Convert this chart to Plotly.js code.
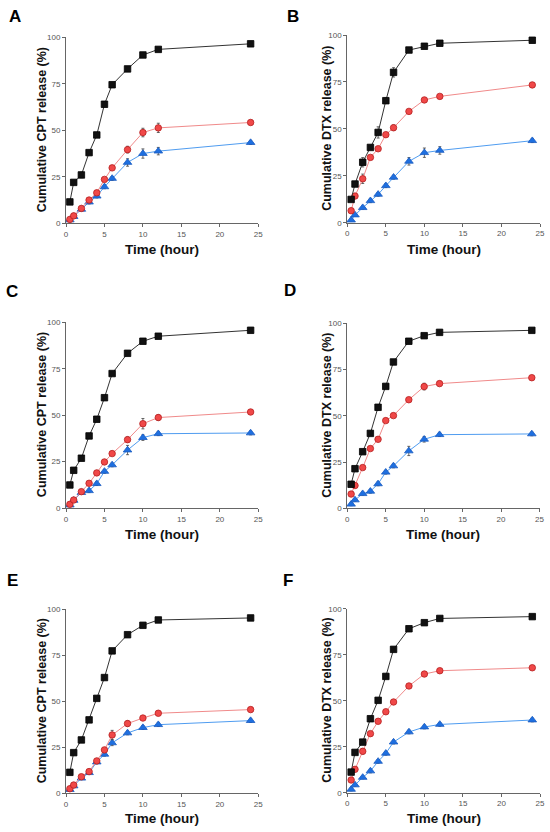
<!DOCTYPE html>
<html>
<head>
<meta charset="utf-8">
<script src="https://cdn.plot.ly/plotly-3.0.1.min.js"></script>
<style>html,body{margin:0;padding:0;background:#fff;}#chart{width:550px;height:832px;}</style>
</head>
<body>
<div id="chart"></div>
<script>
// ---- Data ----
const time = [0.5, 1, 2, 3, 4, 5, 6, 8, 10, 12, 24];
const panelLabels = ["A", "B", "C", "D", "E", "F"];
const yTitles = ["Cumulative CPT release (%)", "Cumulative DTX release (%)",
                 "Cumulative CPT release (%)", "Cumulative DTX release (%)",
                 "Cumulative CPT release (%)", "Cumulative DTX release (%)"];
const xTitle = "Time (hour)";
const xTicks = [0, 5, 10, 15, 20, 25];
const yTicks = [0, 25, 50, 75, 100];

const blackA = [11.5, 22, 26, 38, 47.5, 64, 74.5, 83, 90.5, 93.5, 96.5];
const redA   = [2.1, 4, 8, 12.5, 16.4, 23.6, 29.8, 39.6, 48.8, 51.3, 54.2];
const blueA  = [1.8, 3.6, 7.5, 11.4, 14.6, 19.6, 24.1, 32.7, 37.5, 38.8, 43.4];
const blackB = [12.4, 20.6, 32.2, 40.1, 48.1, 65, 80.1, 92, 94, 95.6, 97.2];
const redB   = [6.4, 14.2, 23.4, 34.8, 39.4, 46.9, 50.6, 59.3, 65.4, 67.3, 73.4];
const blueB  = [1.4, 4.1, 8, 11.7, 15.1, 19.7, 24.2, 32.7, 37.3, 38.5, 43.7];
const blackC = [12.4, 20.3, 26.8, 38.8, 47.8, 59.4, 72.4, 83.3, 89.8, 92.5, 95.7];
const redC   = [2, 4.3, 8.8, 13.3, 18.9, 24.8, 29.3, 36.8, 45.4, 48.7, 51.7];
const blueC  = [1.6, 4.1, 8.3, 9.3, 13.1, 19.7, 23.2, 31.2, 37.9, 40, 40.4];
const blackD = [13, 21.4, 30.6, 40.5, 54.6, 65.9, 79.1, 90.3, 93.3, 95.1, 96.2];
const redD   = [7.7, 12.3, 22, 32.3, 37.3, 47.4, 50.1, 58.7, 65.8, 67.4, 70.6];
const blueD  = [2.2, 4.5, 7.9, 9.2, 13.2, 19.5, 22.9, 31, 37.3, 39.8, 40.2];
const blackE = [11.4, 22.1, 29, 39.9, 51.6, 62.9, 77.4, 86.2, 91.3, 94.2, 95.3];
const redE   = [2.5, 4.5, 9, 11.8, 17.6, 23.6, 31.7, 37.9, 40.9, 43.5, 45.5];
const blueE  = [2, 4, 8.2, 11.2, 17, 21.2, 27.4, 32.8, 35.7, 37.3, 39.5];
const blackF = [11.2, 21.9, 27.5, 40.2, 50.2, 63.2, 77.9, 89.1, 92.4, 94.7, 95.7];
const redF   = [6.9, 12.7, 22.5, 32.1, 38.8, 44, 49.3, 58, 64.5, 66.3, 67.9];
const blueF  = [1.8, 4.2, 8.3, 11.8, 17, 21.4, 27.5, 33, 35.7, 37.1, 39.5];

const errBlackA = [1, 1, 1.5, 1, 1, 1, 1, 1, 1, 1, 1];
const errRedA   = [0.8, 0.8, 1, 1, 1, 1, 1, 1.8, 2.3, 2.5, 1.2];
const errBlueA  = [0.8, 0.8, 0.8, 1, 1, 1, 1, 2, 2.5, 2, 1];
const errBlackB = [1, 1, 2.5, 1, 3, 1.5, 2.5, 1, 1, 1, 1];
const errRedB   = [1, 1, 2.5, 1, 1, 1, 1.5, 1, 1, 1, 1];
const errBlueB  = [0.8, 0.8, 0.8, 1, 1, 1, 1, 2, 2.5, 2, 1];
const errBlackC = [1, 1, 1, 1, 1, 1, 1, 1, 1, 1, 1];
const errRedC   = [0.8, 0.8, 1, 1, 1, 1, 1, 1.5, 2.8, 1.5, 1.2];
const errBlueC  = [0.8, 0.8, 0.8, 1, 1, 1, 1, 2.5, 1.5, 1, 1];
const errBlackD = [1, 1, 1, 1, 1.5, 1, 1, 1, 1, 1, 1];
const errRedD   = [1, 1, 1, 1, 1, 1, 1, 1, 1.8, 1.2, 1];
const errBlueD  = [0.8, 0.8, 0.8, 1, 1, 1, 1, 2.5, 1.5, 1, 1];
const errBlackE = [1, 1, 1, 1, 1, 1, 1, 1, 1, 1, 1];
const errRedE   = [0.8, 0.8, 1, 1, 1, 1, 2.5, 1.5, 1, 1.2, 1.2];
const errBlueE  = [0.8, 0.8, 0.8, 1, 1, 1, 1.5, 1, 1, 1, 1];
const errBlackF = [1, 1, 1, 1, 1, 1, 1, 1, 1, 1, 1];
const errRedF   = [1, 1, 1.5, 1, 1, 1.2, 1, 1, 1, 1, 1];
const errBlueF  = [0.8, 0.8, 0.8, 1, 1, 1, 1, 1, 1, 1, 1];

const blackSeries = [blackA, blackB, blackC, blackD, blackE, blackF];
const redSeries   = [redA, redB, redC, redD, redE, redF];
const blueSeries  = [blueA, blueB, blueC, blueD, blueE, blueF];
const blackErr = [errBlackA, errBlackB, errBlackC, errBlackD, errBlackE, errBlackF];
const redErr   = [errRedA, errRedB, errRedC, errRedD, errRedE, errRedF];
const blueErr  = [errBlueA, errBlueB, errBlueC, errBlueD, errBlueE, errBlueF];

// ---- Layout geometry (pixels) ----
const W = 550, H = 832;
const panels = [
  {x0: 66,    x1: 258.3, yTop: 37.3,  yBot: 223.3, lx: 15,  ly: 16,  tx: 42,  xt: 250},
  {x0: 347.3, x1: 540,   yTop: 35,    yBot: 222.7, lx: 293, ly: 17,  tx: 327, xt: 250},
  {x0: 66,    x1: 258.3, yTop: 322.3, yBot: 508,   lx: 12,  ly: 291, tx: 42,  xt: 534},
  {x0: 347.3, x1: 539.5, yTop: 323.3, yBot: 508.3, lx: 290, ly: 290, tx: 327, xt: 534},
  {x0: 66,    x1: 258.3, yTop: 609.3, yBot: 793.3, lx: 12,  ly: 580, tx: 42,  xt: 818},
  {x0: 347.3, x1: 540,   yTop: 608.7, yBot: 792.7, lx: 288, ly: 580, tx: 327, xt: 818}
];

const traces = [];
const layout = {
  width: W, height: H,
  margin: {l: 0, r: 0, t: 0, b: 0},
  paper_bgcolor: "#fff", plot_bgcolor: "rgba(0,0,0,0)",
  showlegend: false,
  annotations: []
};

const tickFont = {family: "Liberation Sans Narrow, Arial Narrow, Liberation Sans, Arial, sans-serif", size: 8, color: "#555"};
const titleFont = {family: "Liberation Sans, Arial, sans-serif", size: 12.5, color: "#111"};
const xTitleFont = {family: "Liberation Sans Narrow, Arial Narrow, Liberation Sans, Arial, sans-serif", size: 13.5, color: "#111"};

panels.forEach((p, i) => {
  const n = i + 1;
  const xa = "x" + (n === 1 ? "" : n);
  const ya = "y" + (n === 1 ? "" : n);
  const axCommon = {
    showline: true, linecolor: "#666", linewidth: 1,
    ticks: "outside", ticklen: 3, tickwidth: 1, tickcolor: "#666",
    showgrid: false, zeroline: false, tickfont: tickFont, fixedrange: true
  };
  layout["xaxis" + (n === 1 ? "" : n)] = Object.assign({}, axCommon, {
    domain: [p.x0 / W, p.x1 / W], anchor: ya,
    range: [0, 25], tickvals: xTicks, ticktext: xTicks.map(String)
  });
  layout["yaxis" + (n === 1 ? "" : n)] = Object.assign({}, axCommon, {
    domain: [1 - p.yBot / H, 1 - p.yTop / H], anchor: xa,
    range: [0, 100], tickvals: yTicks, ticktext: yTicks.map(String)
  });

  const specs = [
    {y: blueSeries[i], e: blueErr[i], line: "#4f9cf0", mk: "#1e6fe0", ml: "#1a5cc0", sym: "triangle-up", size: 7.5},
    {y: redSeries[i], e: redErr[i], line: "#f08a8a", mk: "#f04848", ml: "#b52020", sym: "circle", size: 6.5},
    {y: blackSeries[i], e: blackErr[i], line: "#333", mk: "#111", ml: "#000", sym: "square", size: 6.5}
  ];
  specs.forEach(s => {
    traces.push({
      type: "scatter", mode: "lines+markers",
      x: time, y: s.y, xaxis: xa, yaxis: ya,
      line: {color: s.line, width: 1},
      marker: {symbol: s.sym, size: s.size, color: s.mk, line: {color: s.ml, width: 0.8}},
      error_y: {type: "data", array: s.e, visible: true, color: "#444", thickness: 0.8, width: 1.5},
      cliponaxis: false, hoverinfo: "skip"
    });
  });

  layout.annotations.push({
    text: "<b>" + panelLabels[i] + "</b>", xref: "paper", yref: "paper",
    x: p.lx / W, y: 1 - p.ly / H, xanchor: "center", yanchor: "middle",
    showarrow: false, font: {family: "Liberation Sans, Arial, sans-serif", size: 17, color: "#000"}
  });
  layout.annotations.push({
    text: "<b>" + yTitles[i] + "</b>", xref: "paper", yref: "paper",
    x: p.tx / W, y: 1 - ((p.yTop + p.yBot) / 2) / H, xanchor: "center", yanchor: "middle",
    textangle: -90, showarrow: false, font: titleFont
  });
  layout.annotations.push({
    text: "<b>" + xTitle + "</b>", xref: "paper", yref: "paper",
    x: ((p.x0 + p.x1) / 2) / W, y: 1 - p.xt / H, xanchor: "center", yanchor: "middle",
    showarrow: false, font: xTitleFont
  });
});

Plotly.newPlot("chart", traces, layout, {displayModeBar: false, staticPlot: true});
</script>
</body>
</html>
